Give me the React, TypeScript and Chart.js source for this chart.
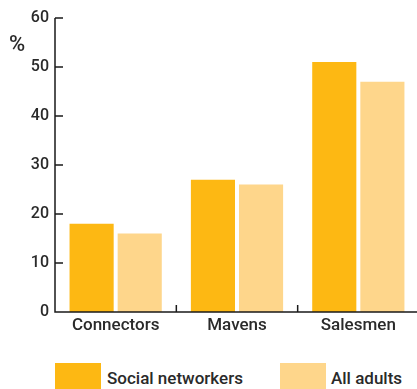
import React, { useEffect, useRef } from "react";
import { Chart, registerables } from "chart.js";

Chart.register(...registerables);

const categories = ["Connectors", "Mavens", "Salesmen"];
const socialNetworkers = [18, 27, 51];
const allAdults = [16, 26, 47];
const seriesLabels = ["Social networkers", "All adults"];
const yTicks = [0, 10, 20, 30, 40, 50, 60];
const unitLabel = "%";

const COLORS = ["#FDB813", "#FED68B"];
const TEXT = "#2a2a2a";
const FONT = "Roboto, 'DejaVu Sans', sans-serif";

const axisPlugin = {
  id: "inwardAxes",
  afterDraw(chart: any) {
    const ctx = chart.ctx;
    const { left, right, top, bottom } = chart.chartArea;
    const ys = chart.scales.y;
    const xs = chart.scales.x;
    ctx.save();
    ctx.strokeStyle = "#1a1a1a";
    ctx.lineWidth = 1.5;
    ctx.beginPath();
    ctx.moveTo(left, top);
    ctx.lineTo(left, bottom);
    ctx.lineTo(right, bottom);
    ys.ticks.forEach((_t: any, i: number) => {
      const py = ys.getPixelForTick(i);
      ctx.moveTo(left, py);
      ctx.lineTo(left + 8, py);
    });
    for (let i = 1; i < xs.ticks.length; i++) {
      const px = (xs.getPixelForTick(i - 1) + xs.getPixelForTick(i)) / 2;
      ctx.moveTo(px, bottom);
      ctx.lineTo(px, bottom - 7);
    }
    ctx.stroke();
    ctx.restore();
  },
};

export default function App() {
  const ref = useRef<HTMLCanvasElement>(null);

  useEffect(() => {
    if (!ref.current) return;
    const chart = new Chart(ref.current, {
      type: "bar",
      data: {
        labels: categories,
        datasets: [
          {
            label: seriesLabels[0],
            data: socialNetworkers,
            backgroundColor: COLORS[0],
            barPercentage: 0.917,
            categoryPercentage: 0.793,
          },
          {
            label: seriesLabels[1],
            data: allAdults,
            backgroundColor: COLORS[1],
            barPercentage: 0.917,
            categoryPercentage: 0.793,
          },
        ],
      },
      options: {
        responsive: false,
        animation: false,
        layout: { padding: { top: 18, right: 11, left: 1, bottom: 0 } },
        plugins: {
          legend: { display: false },
          tooltip: { enabled: false },
          title: { display: false },
        },
        scales: {
          x: {
            grid: { display: false, drawTicks: false },
            border: { display: false },
            ticks: {
              color: TEXT,
              padding: 4,
              font: { family: FONT, size: 17, weight: 500 as any },
            },
            afterFit: (s: any) => {
              s.height = 28;
            },
          },
          y: {
            min: 0,
            max: 60,
            grid: { display: false, drawTicks: false },
            border: { display: false },
            ticks: {
              color: TEXT,
              padding: 6,
              font: { family: FONT, size: 16, weight: 500 as any },
            },
            afterBuildTicks: (s: any) => {
              s.ticks = yTicks.map((v) => ({ value: v }));
            },
            afterFit: (s: any) => {
              s.width = 54;
            },
          },
        },
      },
      plugins: [axisPlugin],
    });
    return () => chart.destroy();
  }, []);

  const legendText: React.CSSProperties = {
    position: "absolute",
    top: 378,
    transform: "translateY(-50%)",
    fontFamily: FONT,
    fontSize: 17,
    fontWeight: 500,
    color: TEXT,
    whiteSpace: "nowrap",
  };

  return (
    <div
      style={{
        position: "fixed",
        left: 0,
        top: 0,
        width: 417,
        height: 389,
        overflow: "hidden",
        background: "#fff",
      }}
    >
      <canvas ref={ref} width={430} height={340} style={{ position: "absolute", left: 0, top: 0 }} />
      <span
        style={{
          position: "absolute",
          left: 9,
          top: 43,
          transform: "translateY(-50%)",
          fontFamily: FONT,
          fontSize: 22,
          fontWeight: 500,
          color: TEXT,
        }}
      >
        {unitLabel}
      </span>
      <div style={{ position: "absolute", left: 55, top: 363, width: 46, height: 30, background: COLORS[0] }} />
      <span style={{ ...legendText, left: 107 }}>{seriesLabels[0]}</span>
      <div style={{ position: "absolute", left: 280, top: 363, width: 46, height: 30, background: COLORS[1] }} />
      <span style={{ ...legendText, left: 331 }}>{seriesLabels[1]}</span>
    </div>
  );
}
